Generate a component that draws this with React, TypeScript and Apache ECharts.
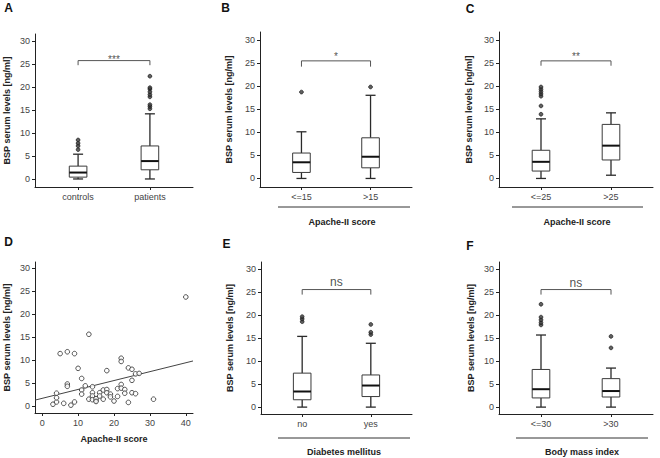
import React, { useEffect, useRef } from "react";
import * as echarts from "echarts";

// ---------- data ----------
const yTicks = [0, 5, 10, 15, 20, 25, 30];
const yAxisTitle = "BSP serum levels [ng/ml]";

// box stats: [low whisker, Q1, median, Q3, high whisker]
const catsA = ["controls", "patients"];
const statsA = [
  [0, 0.4, 1.4, 2.8, 5.4],
  [0, 2.0, 3.9, 7.2, 14.2],
];
const outliersA = [
  [6.4, 7.2, 7.8, 8.5],
  [15.3, 15.8, 16.2, 17.9, 18.4, 19.0, 19.6, 19.9, 22.4],
];
const sigA = "***";

const catsB = ["<=15", ">15"];
const statsB = [
  [0, 1.3, 3.5, 5.5, 10.1],
  [0, 2.3, 4.7, 8.8, 18.0],
];
const outliersB = [[18.7], [19.8]];
const sigB = "*";

const catsC = ["<=25", ">25"];
const statsC = [
  [0, 1.6, 3.6, 6.1, 12.9],
  [0.7, 4.0, 7.1, 11.7, 14.2],
];
const outliersC = [[13.9, 15.7, 17.8, 18.3, 18.8, 19.3, 19.8], []];
const sigC = "**";

const catsE = ["no", "yes"];
const statsE = [
  [0, 1.6, 3.4, 7.4, 15.4],
  [0, 2.3, 4.7, 7.0, 13.9],
];
const outliersE = [
  [18.6, 19.2, 19.7],
  [15.8, 16.3, 18.0],
];
const sigE = "ns";

const catsF = ["<=30", ">30"];
const statsF = [
  [0, 2.0, 3.9, 8.2, 15.7],
  [0, 2.2, 3.5, 6.2, 8.5],
];
const outliersF = [
  [17.9, 18.4, 19.0, 19.6, 22.4],
  [12.9, 15.4],
];
const sigF = "ns";

// panel D scatter
const apacheD = [3, 4, 4, 4, 5, 6, 7, 7, 7, 8, 9, 9, 10, 11, 11, 11, 12, 13, 13, 14, 14, 14, 14, 15, 15, 15, 16, 16, 17, 17, 18, 18, 18, 19, 19, 20, 21, 21, 22, 22, 22, 22, 23, 23, 24, 24, 25, 25, 25, 26, 26, 27, 31, 40];
const bspD = [0.4, 0.9, 1.8, 2.8, 11.4, 0.6, 11.8, 4.8, 4.3, 0.2, 0.9, 11.4, 8.2, 6.0, 3.5, 2.6, 4.4, 15.6, 1.5, 4.2, 2.9, 2.2, 1.4, 1.2, 1.6, 1.0, 2.9, 2.2, 3.5, 1.5, 7.7, 3.6, 2.9, 2.6, 2.0, 1.1, 3.8, 2.1, 10.4, 9.7, 4.7, 3.9, 3.6, 2.8, 8.3, 0.8, 8.0, 5.6, 2.9, 2.7, 7.0, 7.1, 1.5, 23.7];
const regX = [-2, 42];
const regY = [1.3, 9.8];
const xTicksD = [0, 10, 20, 30, 40];
const xTitleD = "Apache-II score";

// group labels below panels
const groupTitles = ["Apache-II score", "Apache-II score", "Diabetes mellitus", "Body mass index"];
const letters = ["A", "B", "C", "D", "E", "F"];

// ---------- layout ----------
const FONT = '"Liberation Sans", Arial, Helvetica, sans-serif';
const AX = "#222";
const LBL = "#444";

type BoxPanel = {
  cats: string[];
  stats: number[][];
  out: number[][];
  sig: string;
  left: number; width: number; top: number; height: number;
  ymin: number; ymax: number; nameGap: number;
  bracket: [number, number]; sigY: number; sigSize: number;
};

const boxPanels: (BoxPanel | null)[] = [
  { cats: catsA, stats: statsA, out: outliersA, sig: sigA, left: 35, width: 158, top: 34, height: 153, ymin: -1.75, ymax: 31.6, nameGap: 24, bracket: [24.8, 25.8], sigY: 26.1, sigSize: 10 },
  { cats: catsB, stats: statsB, out: outliersB, sig: sigB, left: 260, width: 152, top: 32, height: 155, ymin: -1.85, ymax: 31.7, nameGap: 27, bracket: [24.2, 25.45], sigY: 26.4, sigSize: 10 },
  { cats: catsC, stats: statsC, out: outliersC, sig: sigC, left: 499, width: 154, top: 32, height: 155, ymin: -1.85, ymax: 31.7, nameGap: 26, bracket: [24.4, 25.45], sigY: 26.4, sigSize: 10 },
  null,
  { cats: catsE, stats: statsE, out: outliersE, sig: sigE, left: 261, width: 151, top: 262, height: 152, ymin: -1.5, ymax: 31.6, nameGap: 27, bracket: [24.5, 25.6], sigY: 27.2, sigSize: 12 },
  { cats: catsF, stats: statsF, out: outliersF, sig: sigF, left: 499, width: 154, top: 262, height: 152, ymin: -1.5, ymax: 31.6, nameGap: 24, bracket: [24.5, 25.6], sigY: 27.1, sigSize: 12 },
];
const gridD = { left: 35, width: 158, top: 262, height: 151, ymin: -1.5, ymax: 31.3, nameGap: 24 };

function renderBox(params: any, api: any) {
  const x = api.value(0);
  const lo = api.coord([x, api.value(1)]);
  const q1 = api.coord([x, api.value(2)]);
  const md = api.coord([x, api.value(3)]);
  const q3 = api.coord([x, api.value(4)]);
  const hi = api.coord([x, api.value(5)]);
  const cx = lo[0];
  const hw = 8.8;
  const cw = 5;
  const wStyle = { stroke: "#2a2a2a", lineWidth: 1.3 };
  return {
    type: "group",
    children: [
      { type: "line", shape: { x1: cx, y1: hi[1], x2: cx, y2: q3[1] }, style: wStyle },
      { type: "line", shape: { x1: cx, y1: q1[1], x2: cx, y2: lo[1] }, style: wStyle },
      { type: "line", shape: { x1: cx - cw, y1: hi[1], x2: cx + cw, y2: hi[1] }, style: wStyle },
      { type: "line", shape: { x1: cx - cw, y1: lo[1], x2: cx + cw, y2: lo[1] }, style: wStyle },
      { type: "rect", shape: { x: cx - hw, y: q3[1], width: 2 * hw, height: q1[1] - q3[1] }, style: { fill: "#fff", stroke: "#3a3a3a", lineWidth: 1 } },
      { type: "line", shape: { x1: cx - hw, y1: md[1], x2: cx + hw, y2: md[1] }, style: { stroke: "#111", lineWidth: 2 } },
    ],
  };
}

function buildOption() {
  const grid: any[] = [];
  const xAxis: any[] = [];
  const yAxis: any[] = [];
  const series: any[] = [];

  const yAxisBase = (i: number, ymin: number, ymax: number, nameGap: number) => ({
    gridIndex: i,
    type: "value",
    min: ymin,
    max: ymax,
    axisLine: { show: true, onZero: false, lineStyle: { color: AX, width: 1 } },
    axisTick: { show: true, length: 3, customValues: yTicks, lineStyle: { color: AX } },
    axisLabel: { customValues: yTicks, fontSize: 9, color: LBL, margin: 5, fontFamily: FONT },
    splitLine: { show: false },
    name: yAxisTitle,
    nameLocation: "middle",
    nameGap,
    nameTextStyle: { fontWeight: "bold", fontSize: 9, color: "#222", fontFamily: FONT },
  });

  boxPanels.forEach((p, i) => {
    if (!p) {
      // scatter panel D
      grid.push({ left: gridD.left, top: gridD.top, width: gridD.width, height: gridD.height, outerBoundsMode: "none" });
      xAxis.push({
        gridIndex: i,
        type: "value",
        min: regX[0],
        max: regX[1],
        axisLine: { show: true, onZero: false, lineStyle: { color: AX, width: 1 } },
        axisTick: { show: true, length: 3, customValues: xTicksD, lineStyle: { color: AX } },
        axisLabel: { customValues: xTicksD, fontSize: 9, color: LBL, margin: 5, fontFamily: FONT },
        splitLine: { show: false },
        name: xTitleD,
        nameLocation: "middle",
        nameGap: 21,
        nameTextStyle: { fontWeight: "bold", fontSize: 9, color: "#222", fontFamily: FONT },
      });
      yAxis.push(yAxisBase(i, gridD.ymin, gridD.ymax, gridD.nameGap));
      series.push({
        type: "line",
        xAxisIndex: i,
        yAxisIndex: i,
        data: regX.map((x, k) => [x, regY[k]]),
        symbol: "none",
        color: "#444",
        lineStyle: { color: "#444", width: 1 },
        silent: true,
        z: 2,
      });
      series.push({
        type: "scatter",
        xAxisIndex: i,
        yAxisIndex: i,
        data: apacheD.map((x, k) => [x, bspD[k]]),
        symbol: "circle",
        symbolSize: 4.6,
        itemStyle: { color: "#fff", borderColor: "#2a2a2a", borderWidth: 1 },
        silent: true,
        z: 3,
      });
      return;
    }
    grid.push({ left: p.left, top: p.top, width: p.width, height: p.height, outerBoundsMode: "none" });
    const cats = p.cats;
    xAxis.push({
      gridIndex: i,
      type: "value",
      min: -0.6,
      max: 1.6,
      axisLine: { show: true, onZero: false, lineStyle: { color: AX, width: 1 } },
      axisTick: { show: true, length: 3, customValues: [0, 1], lineStyle: { color: AX } },
      axisLabel: {
        customValues: [0, 1],
        formatter: (v: number) => cats[Math.round(v)] ?? "",
        fontSize: 9,
        color: LBL,
        margin: 5,
        fontFamily: FONT,
      },
      splitLine: { show: false },
    });
    yAxis.push(yAxisBase(i, p.ymin, p.ymax, p.nameGap));

    series.push({
      type: "custom",
      xAxisIndex: i,
      yAxisIndex: i,
      data: p.stats.map((s, j) => [j, ...s]),
      renderItem: renderBox,
      encode: { x: 0, y: [1, 2, 3, 4, 5] },
      silent: true,
      z: 2,
    });
    const outData: number[][] = [];
    p.out.forEach((arr, j) => arr.forEach((v) => outData.push([j, v])));
    series.push({
      type: "scatter",
      xAxisIndex: i,
      yAxisIndex: i,
      data: outData,
      symbol: "circle",
      symbolSize: 3.8,
      color: "#333",
      itemStyle: { color: "#3a3a3a", borderColor: "#111", borderWidth: 0.8 },
      silent: true,
      z: 3,
    });
    series.push({
      type: "line",
      xAxisIndex: i,
      yAxisIndex: i,
      data: [[0, p.bracket[0]], [0, p.bracket[1]], [1, p.bracket[1]], [1, p.bracket[0]]],
      symbol: "none",
      color: "#555",
      itemStyle: { color: "#555" },
      lineStyle: { color: "#555", width: 1 },
      silent: true,
      z: 2,
    });
    series.push({
      type: "scatter",
      xAxisIndex: i,
      yAxisIndex: i,
      data: [[0.5, p.sigY]],
      symbolSize: 0.1,
      color: "#fff",
      itemStyle: { color: "rgba(255,255,255,0)" },
      label: {
        show: true,
        position: [0, 0],
        align: "center",
        verticalAlign: "middle",
        formatter: p.sig,
        fontSize: p.sigSize,
        color: "#222",
        fontFamily: FONT,
      },
      silent: true,
      z: 4,
    });
  });

  const letterPos = [[8.5, 8], [225.5, 8], [470, 9], [8.5, 241.5], [226.5, 244], [470, 245.5]];
  const graphic: any[] = letters.map((L, k) => ({
    type: "text",
    x: letterPos[k][0],
    y: letterPos[k][1],
    style: { text: L, fill: "#111", font: `bold 12px ${FONT}`, align: "center", verticalAlign: "middle" },
  }));
  const underlines = [
    [278, 410, 207],
    [512, 643, 207],
    [278, 410, 438],
    [516, 648, 438],
  ];
  const titlePos = [[342, 222], [577, 222], [344, 452], [582, 452]];
  underlines.forEach((u, k) => {
    graphic.push({
      type: "line",
      shape: { x1: u[0], y1: u[2], x2: u[1], y2: u[2] },
      style: { stroke: "#333", lineWidth: 1 },
    });
    graphic.push({
      type: "text",
      x: titlePos[k][0],
      y: titlePos[k][1],
      style: { text: groupTitles[k], font: `bold 9px ${FONT}`, fill: "#222", align: "center", verticalAlign: "middle" },
    });
  });

  return {
    animation: false,
    backgroundColor: "#fff",
    textStyle: { fontFamily: FONT },
    grid,
    xAxis,
    yAxis,
    series,
    graphic,
  };
}

export default function App() {
  const ref = useRef<HTMLDivElement>(null);
  useEffect(() => {
    document.body.style.margin = "0";
    if (!ref.current) return;
    const chart = echarts.init(ref.current, undefined, { renderer: "svg" });
    chart.setOption(buildOption() as any);
    return () => chart.dispose();
  }, []);
  return <div ref={ref} style={{ width: 660, height: 458 }} />;
}
